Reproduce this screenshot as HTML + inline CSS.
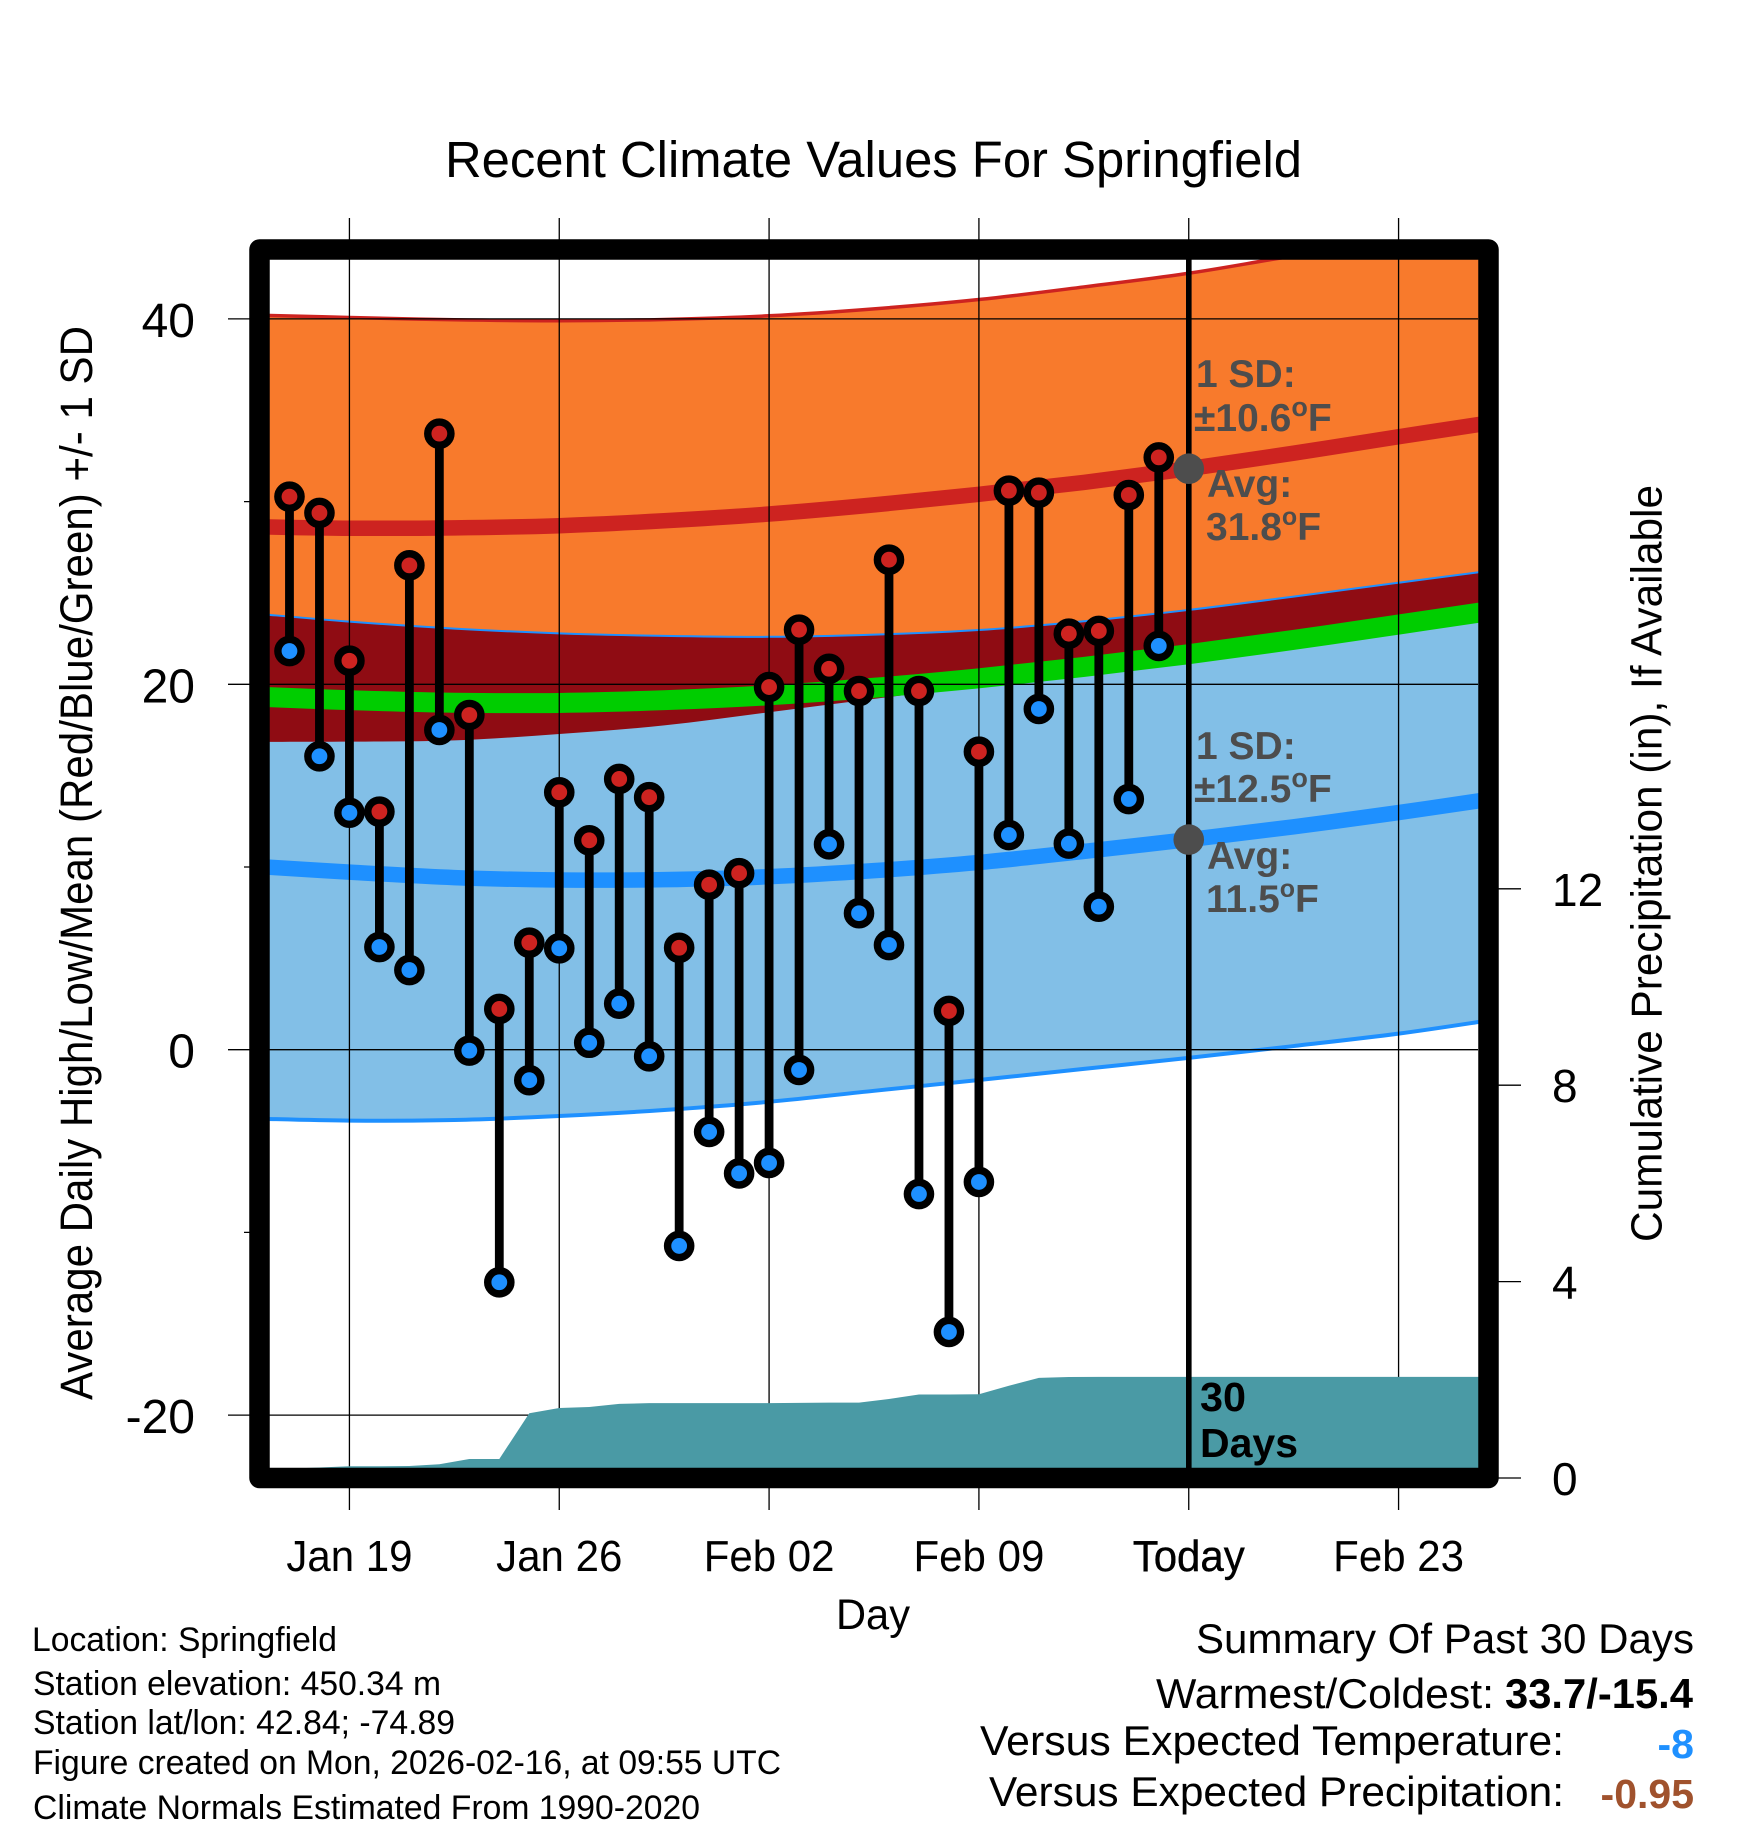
<!DOCTYPE html>
<html lang="en">
<head>
<meta charset="utf-8">
<title>Recent Climate Values For Springfield</title>
<style>
html,body{margin:0;padding:0;background:#fff;}
svg{display:block;}
text{font-family:"Liberation Sans",Arial,sans-serif;fill:#000;}
.note{font-weight:bold;fill:#4d4d4d;font-size:39px;}
</style>
</head>
<body>
<svg id="chart" xmlns="http://www.w3.org/2000/svg" width="1748" height="1828" viewBox="0 0 1748 1828">
  <defs>
    <clipPath id="plot-clip"><rect x="259.5" y="249.5" width="1229" height="1228.5"></rect></clipPath>
  </defs>
  <text x="445" y="177" font-size="51" textLength="857" lengthAdjust="spacingAndGlyphs">Recent Climate Values For Springfield</text>
  <g id="bands" clip-path="url(#plot-clip)"></g>
  <g id="grid"></g>
  <g id="precip" clip-path="url(#plot-clip)"></g>
  <g id="marks"></g>
  <line x1="1188.8" x2="1188.8" y1="250" y2="1478" stroke="#000" stroke-width="5.6"></line>
  <g id="today-markers"></g>

  <text class="note" x="1196" y="387">1 SD:</text>
  <text class="note" x="1194" y="431">±10.6<tspan font-size="27" dy="-15">o</tspan><tspan dy="15">F</tspan></text>
  <text class="note" x="1207" y="497">Avg:</text>
  <text class="note" x="1206" y="540">31.8<tspan font-size="25" dy="-15">o</tspan><tspan dy="15">F</tspan></text>
  <text class="note" x="1196" y="759">1 SD:</text>
  <text class="note" x="1194" y="802">±12.5<tspan font-size="27" dy="-15">o</tspan><tspan dy="15">F</tspan></text>
  <text class="note" x="1207" y="869">Avg:</text>
  <text class="note" x="1206" y="912">11.5<tspan font-size="25" dy="-15">o</tspan><tspan dy="15">F</tspan></text>
  <text x="1200" y="1411" font-size="41" font-weight="bold" textLength="46" lengthAdjust="spacingAndGlyphs">30</text>
  <text x="1200" y="1457" font-size="41" font-weight="bold" textLength="98" lengthAdjust="spacingAndGlyphs">Days</text>

  <rect x="259.5" y="249.5" width="1229" height="1228.5" fill="none" stroke="#000" stroke-width="20.5" stroke-linejoin="round"></rect>
  <g id="axis-labels"></g>

  <text x="873" y="1629" font-size="43" text-anchor="middle" textLength="74" lengthAdjust="spacingAndGlyphs">Day</text>
  <text transform="translate(92 1400) rotate(-90)" font-size="45" textLength="1074" lengthAdjust="spacingAndGlyphs">Average Daily High/Low/Mean (Red/Blue/Green) +/- 1 SD</text>
  <text transform="translate(1661.5 1242) rotate(-90)" font-size="44" textLength="757" lengthAdjust="spacingAndGlyphs">Cumulative Precipitation (in), If Available</text>

  <text x="32" y="1651" font-size="34" textLength="305" lengthAdjust="spacingAndGlyphs">Location: Springfield</text>
  <text x="33" y="1695" font-size="34" textLength="408" lengthAdjust="spacingAndGlyphs">Station elevation: 450.34 m</text>
  <text x="33" y="1734" font-size="34" textLength="422" lengthAdjust="spacingAndGlyphs">Station lat/lon: 42.84; -74.89</text>
  <text x="33" y="1774" font-size="34" textLength="748" lengthAdjust="spacingAndGlyphs">Figure created on Mon, 2026-02-16, at 09:55 UTC</text>
  <text x="33" y="1819" font-size="34" textLength="667" lengthAdjust="spacingAndGlyphs">Climate Normals Estimated From 1990-2020</text>

  <text x="1196" y="1653" font-size="42" textLength="498" lengthAdjust="spacingAndGlyphs">Summary Of Past 30 Days</text>
  <text x="1156" y="1708" font-size="42" textLength="338" lengthAdjust="spacingAndGlyphs">Warmest/Coldest:</text>
  <text x="1505" y="1708" font-size="42" font-weight="bold" textLength="188" lengthAdjust="spacingAndGlyphs">33.7/-15.4</text>
  <text x="980" y="1755" font-size="42" textLength="584" lengthAdjust="spacingAndGlyphs">Versus Expected Temperature:</text>
  <text x="1694" y="1758" font-size="41" font-weight="bold" text-anchor="end" style="fill:#1e90ff">-8</text>
  <text x="989" y="1806" font-size="42" textLength="575" lengthAdjust="spacingAndGlyphs">Versus Expected Precipitation:</text>
  <text x="1694" y="1808" font-size="41" font-weight="bold" text-anchor="end" style="fill:#a0522d">-0.95</text>
</svg>
<script>
// Observation days, counted from Jan 19 = 0
const days = [-2,-1,0,1,2,3,4,5,6,7,8,9,10,11,12,13,14,15,16,17,18,19,20,21,22,23,24,25,26,27];
const highs = [30.27,29.38,21.29,13.03,26.51,33.72,18.32,2.23,5.86,14.09,11.46,14.82,13.82,5.58,9.03,9.66,19.85,22.99,20.85,19.63,26.82,19.63,2.12,16.31,30.60,30.49,22.77,22.92,30.36,32.42];
const lows = [21.82,16.06,12.97,5.62,4.36,17.50,-0.05,-12.73,-1.67,5.55,0.38,2.52,-0.36,-10.74,-4.50,-6.77,-6.20,-1.11,11.24,7.47,5.73,-7.90,-15.45,-7.24,11.75,18.65,11.28,7.83,13.72,22.10];
const precip = [0.19,0.215,0.24,0.24,0.245,0.28,0.387,0.387,1.32,1.425,1.446,1.51,1.524,1.525,1.525,1.525,1.525,1.53,1.535,1.535,1.61,1.70,1.70,1.705,1.88,2.04,2.057,2.06,2.06,2.06];
const precipEndDay = 38;

// Climate normal curves, sampled along the date axis
const normalDays = [-3,0,3.5,7,10.5,14,17.5,21,24.5,28,31.5,35,38];
const highMean = [28.62,28.54,28.56,28.68,28.95,29.32,29.82,30.40,31.05,31.8,32.65,33.55,34.3];
const highUpper = [40.2,40.08,39.95,39.9,39.97,40.17,40.55,41.06,41.75,42.5,43.45,44.3,45.0];
const highLower = [16.85,16.86,16.93,17.28,17.75,18.47,19.2,19.9,20.55,21.2,22.05,22.95,23.7];
const lowMean = [10.02,9.72,9.42,9.29,9.31,9.47,9.8,10.25,10.85,11.5,12.2,12.98,13.7];
const lowUpper = [23.85,23.43,23.05,22.79,22.65,22.6,22.72,22.97,23.45,24.07,24.8,25.56,26.2];
const lowLower = [-3.78,-3.88,-3.85,-3.63,-3.3,-2.85,-2.25,-1.66,-1.05,-0.45,0.2,0.88,1.6];
const meanMean = [19.32,19.13,18.99,18.98,19.13,19.4,19.81,20.33,20.95,21.65,22.43,23.27,24.0];

// Today's averages
const todayDay = 28;
const todayAverages = [31.8,11.5];

// Axis ticks
const xTickDays = [0,7,14,21,28,35];
const xTickLabels = ["Jan 19","Jan 26","Feb 02","Feb 09","Today","Feb 23"];
const yMajorTicks = [40,20,0,-20];
const yMinorTicks = [30,10,-10];
const precipTicks = [0,4,8,12];

// Axis functions
function xScale(d){ return 259.5 + (d + 3) * 1229 / 41; }
function yScale(v){ return 1049.7 - v * 18.27; }
function pScale(p){ return 1478 - p * 49.1; }

const NS = "http://www.w3.org/2000/svg";
function make(tag, parent, props){
  const el = document.createElementNS(NS, tag);
  for (const k in props) el.setAttribute(k, props[k]);
  parent.appendChild(el);
  return el;
}
// Smooth curve segments (Catmull-Rom to Bezier) through the sampled normals
function curveSegments(xs, ys){
  const p = xs.map(function(d, i){ return [xScale(d), yScale(ys[i])]; });
  let s = "";
  for (let i = 0; i < p.length - 1; i++) {
    const a = p[Math.max(i - 1, 0)], b = p[i], c = p[i + 1], e = p[Math.min(i + 2, p.length - 1)];
    const c1x = b[0] + (c[0] - a[0]) / 6, c1y = b[1] + (c[1] - a[1]) / 6;
    const c2x = c[0] - (e[0] - b[0]) / 6, c2y = c[1] - (e[1] - b[1]) / 6;
    s += " C" + c1x.toFixed(2) + " " + c1y.toFixed(2) + " " + c2x.toFixed(2) + " " + c2y.toFixed(2) + " " + c[0].toFixed(2) + " " + c[1].toFixed(2);
  }
  return s;
}
function linePath(xs, ys){
  return "M" + xScale(xs[0]).toFixed(2) + " " + yScale(ys[0]).toFixed(2) + curveSegments(xs, ys);
}
function bandPath(xs, top, bottom){
  const rx = xs.slice().reverse(), rb = bottom.slice().reverse();
  return linePath(xs, top) + " L" + xScale(rx[0]).toFixed(2) + " " + yScale(rb[0]).toFixed(2) + curveSegments(rx, rb) + " Z";
}

// Bands and normal lines
const bands = document.getElementById("bands");
const orangeBand = make("path", bands, {d: bandPath(normalDays, highUpper, highLower), fill: "#f87a2c"});


const blueBand = make("path", bands, {d: bandPath(normalDays, lowUpper, lowLower), fill: "#82bfe7"});


const overlapBand = make("path", bands, {d: bandPath(normalDays, lowUpper, highLower), fill: "#8f0c13"});


const highUpperLine = make("path", bands, {d: linePath(normalDays, highUpper), fill: "none", stroke: "#cd2320", "stroke-width": 3.5});


const lowUpperLine = make("path", bands, {d: linePath(normalDays, lowUpper), fill: "none", stroke: "#1e90ff", "stroke-width": 2});


const lowLowerLine = make("path", bands, {d: linePath(normalDays, lowLower), fill: "none", stroke: "#1e90ff", "stroke-width": 4});


const meanLine = make("path", bands, {d: linePath(normalDays, meanMean), fill: "none", stroke: "#00cd00", "stroke-width": 20});


const highLine = make("path", bands, {d: linePath(normalDays, highMean), fill: "none", stroke: "#cd2320", "stroke-width": 15.5});


const lowLine = make("path", bands, {d: linePath(normalDays, lowMean), fill: "none", stroke: "#1e90ff", "stroke-width": 15.5});



// Grid and ticks
const grid = document.getElementById("grid");
const labels = document.getElementById("axis-labels");
xTickDays.forEach(function(d, i){
  const gl = make("line", grid, {x1: xScale(d), x2: xScale(d), y1: 218, y2: 1510, stroke: "#000", "stroke-width": 1.3});
  
  
  const t = make("text", labels, {transform: "translate(" + xScale(d) + " 1571) scale(0.955 1)", "font-size": 44, "text-anchor": "middle"});
  t.textContent = xTickLabels[i];
  if (xTickLabels[i] === "Today") { t.setAttribute("stroke", "#000"); t.setAttribute("stroke-width", "0.4"); }
  
  
});
yMajorTicks.forEach(function(v){
  const gl = make("line", grid, {x1: 228, x2: 1478, y1: yScale(v), y2: yScale(v), stroke: "#000", "stroke-width": 1.3});
  
  
  const t = make("text", labels, {x: 195, y: yScale(v) + 18, "font-size": 48, "text-anchor": "end"});
  t.textContent = String(v);
  
  
});
yMinorTicks.forEach(function(v){
  const mt = make("line", grid, {x1: 244, x2: 262, y1: yScale(v), y2: yScale(v), stroke: "#000", "stroke-width": 1.3});
  
  
});
precipTicks.forEach(function(p){
  const mt = make("line", grid, {x1: 1488, x2: 1521, y1: pScale(p), y2: pScale(p), stroke: "#000", "stroke-width": 1.3});
  
  
  const t = make("text", labels, {x: 1552, y: pScale(p) + 17, "font-size": 46});
  t.textContent = String(p);
  
  
});

// Cumulative precipitation area
const precipGroup = document.getElementById("precip");
const lastPrecip = precip[precip.length - 1];
let precipD = "M" + xScale(days[0]) + " " + pScale(0);
days.forEach(function(d, i){ precipD += " L" + xScale(d).toFixed(2) + " " + pScale(precip[i]).toFixed(2); });
precipD += " L" + xScale(precipEndDay) + " " + pScale(lastPrecip).toFixed(2) + " L" + xScale(precipEndDay) + " " + pScale(0) + " Z";
const precipArea = make("path", precipGroup, {d: precipD, fill: "#4a9aa5"});



// Daily high/low stems and dots
const marks = document.getElementById("marks");
days.forEach(function(d, i){
  const cx = xScale(d);
  const stem = make("line", marks, {x1: cx, x2: cx, y1: yScale(highs[i]), y2: yScale(lows[i]), stroke: "#000", "stroke-width": 8.8});
  
  
  const lo = make("circle", marks, {cx: cx, cy: yScale(lows[i]), r: 11.6, fill: "#1e90ff", stroke: "#000", "stroke-width": 7.4});
  
  
  const hi = make("circle", marks, {cx: cx, cy: yScale(highs[i]), r: 11.6, fill: "#cd2320", stroke: "#000", "stroke-width": 7.4});
  
  
});

// Today's average markers
const todayGroup = document.getElementById("today-markers");
todayAverages.forEach(function(v){
  const m = make("circle", todayGroup, {cx: xScale(todayDay), cy: yScale(v), r: 15.3, fill: "#4d4d4d"});
  
  
});
</script>
</body>
</html>
